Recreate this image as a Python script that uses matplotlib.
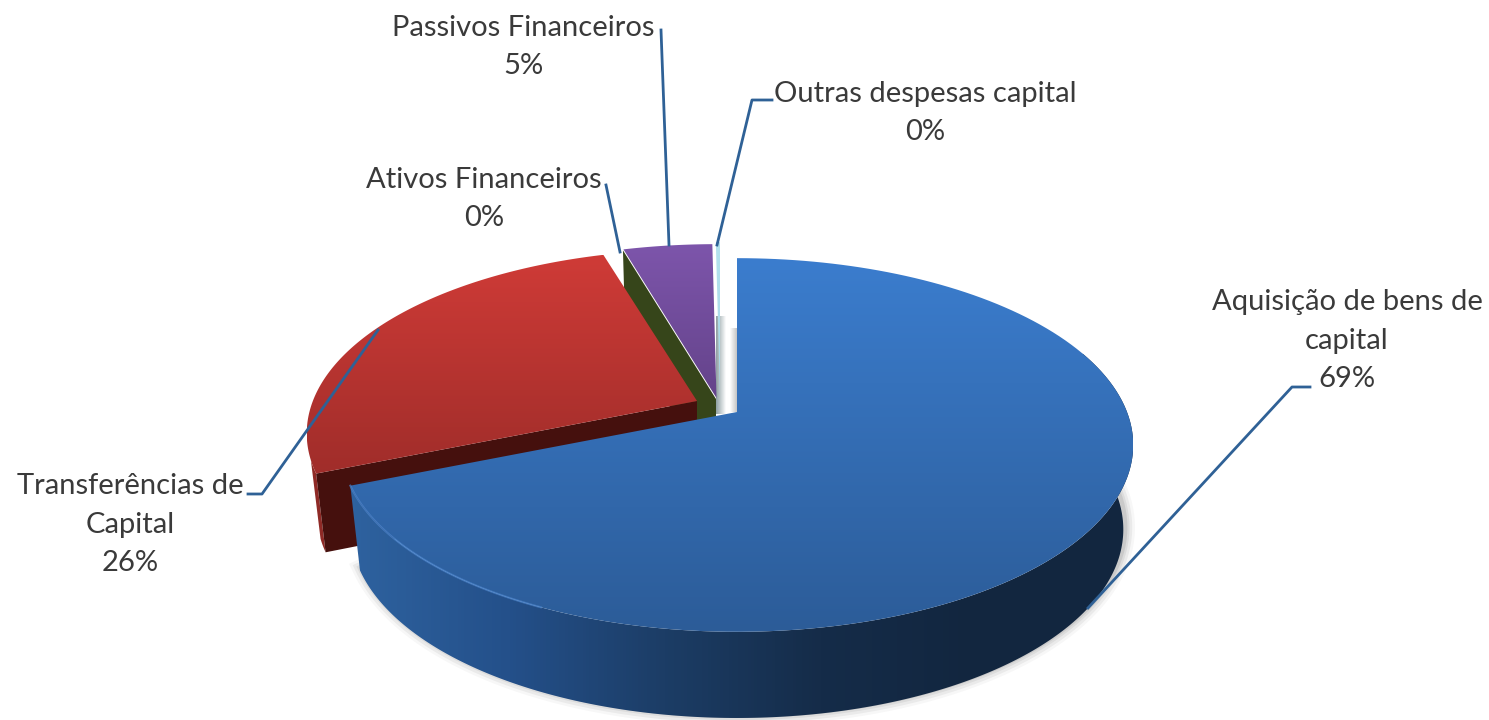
import numpy as np
import matplotlib
matplotlib.use("Agg")
import matplotlib.pyplot as plt
from matplotlib.colors import LinearSegmentedColormap
from matplotlib.patches import Polygon

plt.rcParams['font.family'] = ['Lato', 'DejaVu Sans']

# chart data, clockwise from the top
categories = ['Aquisição de bens de\ncapital', 'Transferências de\nCapital',
              'Ativos Financeiros', 'Passivos Financeiros', 'Outras despesas capital']
values = [68.8, 26.6, 0.1, 4.3, 0.2]
pct_labels = ['69%', '26%', '0%', '5%', '0%']

# exploded slices: where each apex lands on the canvas
apex = [(737, 412), (697, 401), (716, 399), (716.5, 398), (720, 396)]
depths = [84, 78, 84, 84, 84]
radii = [1.0, 0.985, 1.0, 1.0, 1.0]
top_colors = [('#3b7dce', '#2c5c98'), ('#cf3b37', '#a02d2a'), ('#3a4a1a', '#34421a'),
              ('#7d55ab', '#64438a'), ('#b4e2ee', '#a8d8e6')]
wall_colors = ['#13263f', '#45100d', '#36451a', '#4b3268', '#8fb0b8']

label_pos = [(1347, 302), (130, 486), (484, 180), (523, 28), (925, 94)]
leaders = [[(1310, 387), (1292, 387), (1088, 608)],
           [(248, 494), (262, 494), (378, 330)],
           [(606, 185), (620, 252)],
           [(661, 30), (669, 245)],
           [(772, 100), (752, 100), (717, 245)]]

RX, RY, K = 390.0, 181.0, 0.1765
LINE_STEP = 38.5


def project(deg, c, depth=None, r=1.0):
    # perspective view of the flat disc, angle clockwise from 12 o'clock
    th = np.radians(deg)
    x, y = np.sin(th), -np.cos(th)
    s = r / (1.0 - K * y)
    if depth is None:
        return np.column_stack([c[0] + RX * x * s, c[1] + RY * y * s])
    return np.column_stack([c[0] + RX * x * s * 0.975, c[1] + RY * y * s * 1.01 + depth])


def grad_fill(ax, pts, colors, vertical=True, zorder=1):
    cmap = LinearSegmentedColormap.from_list('g', colors)
    x0, y0 = pts.min(axis=0)
    x1, y1 = pts.max(axis=0)
    ramp = np.linspace(0, 1, 256)
    img = ramp[:, None] if vertical else ramp[None, :]
    im = ax.imshow(img, cmap=cmap, extent=(x0, x1, y1, y0), aspect='auto',
                   origin='upper', zorder=zorder, interpolation='bilinear')
    patch = Polygon(pts, closed=True, transform=ax.transData, fc='none', ec='none')
    ax.add_patch(patch)
    im.set_clip_path(patch)
    return im


fig = plt.figure(figsize=(14.89, 7.2), dpi=100)
ax = fig.add_axes([0, 0, 1, 1])

edges = np.concatenate([[0], np.cumsum(values)]) * 3.6

# soft shadow hugging the outside of the big slice
arc = project(np.linspace(70, edges[1], 200), apex[0], depth=depths[0])
for w, a in zip([14, 10, 6, 3], [0.03, 0.05, 0.06, 0.08]):
    ax.plot(arc[:, 0] + 2, arc[:, 1] - 2, color='black', lw=w, alpha=a, zorder=0.5)

# grey shading seen in the gap behind the exploded slices
grad_fill(ax, np.array([[716, 316], [726, 316], [726, 414], [716, 414]], float),
          ['#8e9ea2', '#ffffff'], vertical=False, zorder=1)
grad_fill(ax, np.array([[730, 328], [737, 328], [737, 412], [730, 412]], float),
          ['#ffffff', '#c4c4c4'], vertical=False, zorder=1)

# back slices first, the big one last
for i in [4, 3, 2, 1, 0]:
    a0, a1 = edges[i], edges[i + 1]
    c = apex[i]
    d = depths[i]
    r = radii[i]
    z = 2 + (4 - i) * 2
    rim = project(np.linspace(a0, a1, 150), c, r=r)

    # outer side of the slice
    if i == 0:
        sa = np.linspace(70, a1, 240)
        side = np.vstack([project(sa, c), project(sa, c, depth=d)[::-1]])
        grad_fill(ax, side, ['#2e629f', '#24508a', '#1c3d66', '#152c49', '#12263f', '#12263f'],
                  vertical=False, zorder=z)
    elif i == 1:
        # only a narrow strip of the outer side shows next to the cut
        sa = np.linspace(a0, a0 + 4, 20)
        side = np.vstack([project(sa, c, r=r), project(sa, c, depth=d, r=r)[::-1]])
        ax.add_patch(Polygon(side, closed=True, fc='#8f2a26', ec='none', zorder=z))

    # cut wall, only the ones turned to the viewer
    if i in (1, 2):
        e = a0 if i == 1 else a1
        top = project(np.array([e]), c, r=r)[0]
        bot = project(np.array([e]), c, depth=d, r=r)[0]
        wall = np.array([top, c, (c[0], c[1] + d), bot])
        ax.add_patch(Polygon(wall, closed=True, fc=wall_colors[i], ec='none', zorder=z + 0.2))

    face = np.vstack([[c], rim])
    if i == 2:
        continue
    grad_fill(ax, face, top_colors[i], zorder=z + 0.5)

# light rim on the front edge of the blue slice
front = project(np.linspace(205, edges[1], 80), apex[0])
ax.plot(front[:, 0], front[:, 1], color='#4f8ad4', lw=1.5, alpha=0.6, zorder=11)

# leader lines
for pts in leaders:
    p = np.array(pts)
    ax.plot(p[:, 0], p[:, 1], color='#2f6196', lw=2.0, solid_joinstyle='round', zorder=12)

# labels, name lines then the percentage
for name, pct, (x, y) in zip(categories, pct_labels, label_pos):
    lines = name.split('\n') + [pct]
    for n, line in enumerate(lines):
        ax.text(x, y + n * LINE_STEP, line, ha='center', va='center', fontsize=21,
                color='#3a3a3a', zorder=13)

ax.set_xlim(0, 1489)
ax.set_ylim(720, 0)
ax.axis('off')

fig.savefig('out.png', dpi=100, facecolor='white')
